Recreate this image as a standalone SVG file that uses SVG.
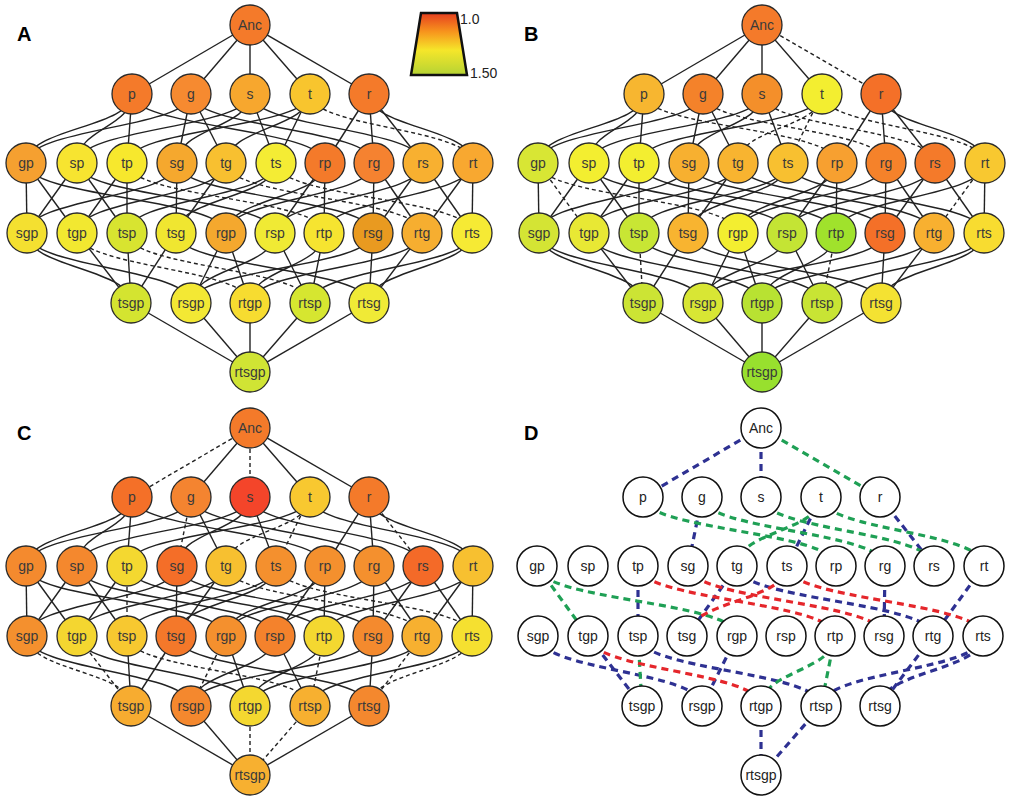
<svg xmlns="http://www.w3.org/2000/svg" xmlns:xlink="http://www.w3.org/1999/xlink" width="1010" height="800" viewBox="0 0 1010 800">
<style>
text{font-family:"Liberation Sans",Arial,sans-serif;font-size:14px;fill:#3a3a3a;text-anchor:middle}
.lbl{font-size:20px;font-weight:bold;fill:#000;text-anchor:start}
.leg{font-size:14px;fill:#222;text-anchor:start}
circle{stroke:#2a2a2a;stroke-width:1.3}
.E{fill:none;stroke:#222;stroke-width:1.4}
.d{stroke-dasharray:4 3}
.Dw circle{fill:#fff;stroke:#111;stroke-width:1.5}
.Dw text{fill:#222}
.DE{fill:none;stroke-width:3.2;stroke-dasharray:7 5}
.b{stroke:#2e3192}.g{stroke:#1fa055}.r{stroke:#e5262b}
</style>
<defs>
<linearGradient id="lg" x1="0" y1="0" x2="0" y2="1">
<stop offset="0" stop-color="#e63e1f"/><stop offset="0.3" stop-color="#f7941d"/><stop offset="0.6" stop-color="#f5e62a"/><stop offset="1" stop-color="#b5d334"/>
</linearGradient>
<path id="Anc-p" d="M250 25L132 94"/>
<path id="Anc-g" d="M250 25L191 94"/>
<path id="Anc-s" d="M250 25L250 94"/>
<path id="Anc-t" d="M250 25L310 94"/>
<path id="Anc-r" d="M250 25L369 94"/>
<path id="p-gp" d="M132 94C132 128 26 128 26 163"/>
<path id="p-sp" d="M132 94C132 128 77 128 77 163"/>
<path id="p-tp" d="M132 94L127 163"/>
<path id="p-rp" d="M132 94C132 128 325 128 325 163"/>
<path id="g-gp" d="M191 94C191 128 26 128 26 163"/>
<path id="g-sg" d="M191 94L177 163"/>
<path id="g-tg" d="M191 94L226 163"/>
<path id="g-rg" d="M191 94C191 128 374 128 374 163"/>
<path id="s-sp" d="M250 94C250 128 77 128 77 163"/>
<path id="s-sg" d="M250 94C250 128 177 128 177 163"/>
<path id="s-ts" d="M250 94L276 163"/>
<path id="s-rs" d="M250 94C250 128 423 128 423 163"/>
<path id="t-tp" d="M310 94C310 128 127 128 127 163"/>
<path id="t-tg" d="M310 94C310 128 226 128 226 163"/>
<path id="t-ts" d="M310 94L276 163"/>
<path id="t-rt" d="M310 94C310 128 473 128 473 163"/>
<path id="r-rp" d="M369 94L325 163"/>
<path id="r-rg" d="M369 94L374 163"/>
<path id="r-rs" d="M369 94L423 163"/>
<path id="r-rt" d="M369 94C369 128 473 128 473 163"/>
<path id="gp-sgp" d="M26 163L27 233"/>
<path id="gp-tgp" d="M26 163L77 233"/>
<path id="gp-rgp" d="M26 163C26 198 226 198 226 233"/>
<path id="sp-sgp" d="M77 163L27 233"/>
<path id="sp-tsp" d="M77 163L127 233"/>
<path id="sp-rsp" d="M77 163C77 198 275 198 275 233"/>
<path id="tp-tgp" d="M127 163L77 233"/>
<path id="tp-tsp" d="M127 163L127 233"/>
<path id="tp-rtp" d="M127 163C127 198 324 198 324 233"/>
<path id="sg-sgp" d="M177 163C177 198 27 198 27 233"/>
<path id="sg-tsg" d="M177 163L176 233"/>
<path id="sg-rsg" d="M177 163C177 198 373 198 373 233"/>
<path id="tg-tgp" d="M226 163C226 198 77 198 77 233"/>
<path id="tg-tsg" d="M226 163L176 233"/>
<path id="tg-rtg" d="M226 163C226 198 422 198 422 233"/>
<path id="ts-tsp" d="M276 163C276 198 127 198 127 233"/>
<path id="ts-tsg" d="M276 163C276 198 176 198 176 233"/>
<path id="ts-rts" d="M276 163C276 198 472 198 472 233"/>
<path id="rp-rgp" d="M325 163C325 198 226 198 226 233"/>
<path id="rp-rsp" d="M325 163L275 233"/>
<path id="rp-rtp" d="M325 163L324 233"/>
<path id="rg-rgp" d="M374 163C374 198 226 198 226 233"/>
<path id="rg-rsg" d="M374 163L373 233"/>
<path id="rg-rtg" d="M374 163L422 233"/>
<path id="rs-rsp" d="M423 163C423 198 275 198 275 233"/>
<path id="rs-rsg" d="M423 163L373 233"/>
<path id="rs-rts" d="M423 163L472 233"/>
<path id="rt-rtp" d="M473 163C473 198 324 198 324 233"/>
<path id="rt-rtg" d="M473 163L422 233"/>
<path id="rt-rts" d="M473 163L472 233"/>
<path id="sgp-tsgp" d="M27 233C27 268 131 268 131 303"/>
<path id="sgp-rsgp" d="M27 233C27 268 191 268 191 303"/>
<path id="tgp-tsgp" d="M77 233L131 303"/>
<path id="tgp-rtgp" d="M77 233C77 268 250 268 250 303"/>
<path id="tsp-tsgp" d="M127 233L131 303"/>
<path id="tsp-rtsp" d="M127 233C127 268 310 268 310 303"/>
<path id="tsg-tsgp" d="M176 233L131 303"/>
<path id="tsg-rtsg" d="M176 233C176 268 369 268 369 303"/>
<path id="rgp-rsgp" d="M226 233L191 303"/>
<path id="rgp-rtgp" d="M226 233L250 303"/>
<path id="rsp-rsgp" d="M275 233C275 268 191 268 191 303"/>
<path id="rsp-rtsp" d="M275 233L310 303"/>
<path id="rtp-rtgp" d="M324 233C324 268 250 268 250 303"/>
<path id="rtp-rtsp" d="M324 233L310 303"/>
<path id="rsg-rsgp" d="M373 233C373 268 191 268 191 303"/>
<path id="rsg-rtsg" d="M373 233L369 303"/>
<path id="rtg-rtgp" d="M422 233C422 268 250 268 250 303"/>
<path id="rtg-rtsg" d="M422 233L369 303"/>
<path id="rts-rtsp" d="M472 233C472 268 310 268 310 303"/>
<path id="rts-rtsg" d="M472 233C472 268 369 268 369 303"/>
<path id="tsgp-rtsgp" d="M131 303L250 372"/>
<path id="rsgp-rtsgp" d="M191 303L250 372"/>
<path id="rtgp-rtsgp" d="M250 303L250 372"/>
<path id="rtsp-rtsgp" d="M310 303L250 372"/>
<path id="rtsg-rtsgp" d="M369 303L250 372"/>
<g id="allsolid">
<use href="#Anc-g"/><use href="#Anc-t"/>
<use href="#p-gp"/><use href="#p-sp"/><use href="#p-tp"/>
<use href="#g-gp"/><use href="#g-tg"/>
<use href="#s-sp"/><use href="#s-sg"/>
<use href="#t-tp"/>
<use href="#r-rp"/><use href="#r-rg"/>
<use href="#gp-sgp"/>
<use href="#sp-sgp"/><use href="#sp-tsp"/><use href="#sp-rsp"/>
<use href="#tp-tgp"/>
<use href="#sg-sgp"/><use href="#sg-tsg"/><use href="#sg-rsg"/>
<use href="#tg-tgp"/><use href="#tg-tsg"/>
<use href="#ts-tsp"/><use href="#ts-tsg"/>
<use href="#rp-rgp"/><use href="#rp-rsp"/><use href="#rp-rtp"/>
<use href="#rg-rgp"/><use href="#rg-rsg"/><use href="#rg-rtg"/>
<use href="#rs-rsp"/><use href="#rs-rsg"/><use href="#rs-rts"/>
<use href="#rt-rtp"/><use href="#rt-rts"/>
<use href="#tsg-tsgp"/><use href="#tsg-rtsg"/>
<use href="#rgp-rtgp"/>
<use href="#rsp-rsgp"/><use href="#rsp-rtsp"/>
<use href="#rtp-rtgp"/>
<use href="#rsg-rsgp"/><use href="#rsg-rtsg"/>
<use href="#rtg-rtgp"/>
<use href="#rts-rtsp"/>
<use href="#tsgp-rtsgp"/><use href="#rsgp-rtsgp"/><use href="#rtsg-rtsgp"/>
</g>
</defs>

<g id="connectors">
<g id="edgesA" class="E">
<use href="#allsolid"/>
<use href="#Anc-p"/><use href="#Anc-s"/><use href="#Anc-r"/><use href="#p-rp"/><use href="#g-sg"/><use href="#g-rg"/><use href="#s-ts"/><use href="#s-rs"/><use href="#t-tg"/><use href="#t-ts"/><use href="#r-rs"/><use href="#r-rt"/><use href="#gp-tgp"/><use href="#gp-rgp"/><use href="#tp-tsp"/><use href="#rt-rtg"/><use href="#sgp-tsgp"/><use href="#sgp-rsgp"/><use href="#tgp-tsgp"/><use href="#tsp-tsgp"/><use href="#rgp-rsgp"/><use href="#rtp-rtsp"/><use href="#rtg-rtsg"/><use href="#rts-rtsg"/><use href="#rtgp-rtsgp"/><use href="#rtsp-rtsgp"/>
<g class="d"><use href="#t-rt"/><use href="#tp-rtp"/><use href="#tg-rtg"/><use href="#ts-rts"/><use href="#tgp-rtgp"/><use href="#tsp-rtsp"/></g>
</g>
<g id="edgesB" class="E" transform="translate(512,0)">
<use href="#allsolid"/>
<use href="#Anc-p"/><use href="#Anc-s"/><use href="#g-sg"/><use href="#s-ts"/><use href="#r-rs"/><use href="#r-rt"/><use href="#p-rp" class="d"/><use href="#tp-tsp"/><use href="#tp-rtp"/><use href="#tg-rtg"/><use href="#ts-rts"/><use href="#sgp-tsgp"/><use href="#sgp-rsgp"/><use href="#tgp-tsgp"/><use href="#tgp-rtgp"/><use href="#tsp-rtsp"/><use href="#rgp-rsgp"/><use href="#rtg-rtsg"/><use href="#rts-rtsg"/><use href="#rtgp-rtsgp"/><use href="#rtsp-rtsgp"/>
<g class="d"><use href="#Anc-r"/><use href="#g-rg"/><use href="#s-rs"/><use href="#t-rt"/><use href="#t-tg"/><use href="#t-ts"/><use href="#gp-tgp"/><use href="#gp-rgp"/><use href="#rt-rtg"/><use href="#tsp-tsgp"/><use href="#rtp-rtsp"/></g>
</g>
<g id="edgesC" class="E" transform="translate(0,403)">
<use href="#allsolid"/>
<use href="#Anc-r"/><use href="#p-rp"/><use href="#g-rg"/><use href="#s-ts"/><use href="#s-rs"/><use href="#t-rt"/><use href="#r-rt"/><use href="#gp-tgp"/><use href="#gp-rgp"/><use href="#tp-rtp"/><use href="#rt-rtg"/><use href="#sgp-rsgp"/><use href="#tgp-rtgp"/><use href="#tsp-tsgp"/>
<g class="d"><use href="#Anc-p"/><use href="#Anc-s"/><use href="#g-sg"/><use href="#t-tg"/><use href="#t-ts"/><use href="#r-rs"/><use href="#tp-tsp"/><use href="#ts-rts"/><use href="#tg-rtg"/><use href="#sgp-tsgp"/><use href="#tgp-tsgp"/><use href="#tsp-rtsp"/><use href="#rgp-rsgp"/><use href="#rtp-rtsp"/><use href="#rtg-rtsg"/><use href="#rts-rtsg"/><use href="#rtgp-rtsgp"/><use href="#rtsp-rtsgp"/></g>
</g>
<g id="edgesD" class="DE" transform="translate(511,403)">
<g class="b"><use href="#Anc-p"/><use href="#Anc-s"/><use href="#g-sg"/><use href="#t-ts"/><use href="#r-rs"/><use href="#tp-tsp"/><use href="#tg-tsg"/><use href="#tg-rtg"/><use href="#rg-rsg"/><use href="#rt-rtg"/><use href="#sgp-rsgp"/><use href="#tgp-tsgp"/><use href="#tsp-rtsp"/><use href="#rgp-rsgp"/><use href="#rtg-rtsg"/><use href="#rts-rtsp"/><use href="#rts-rtsg"/><use href="#rtgp-rtsgp"/><use href="#rtsp-rtsgp"/></g>
<g class="g"><use href="#Anc-r"/><use href="#p-rp"/><use href="#g-rg"/><use href="#s-rs"/><use href="#t-tg"/><use href="#t-rt"/><use href="#gp-tgp"/><use href="#gp-rgp"/><use href="#tsp-tsgp"/><use href="#rtp-rtgp"/><use href="#rtp-rtsp"/></g>
<g class="r"><use href="#tp-rtp"/><use href="#sg-rsg"/><use href="#ts-tsg"/><use href="#ts-rts"/><use href="#tgp-rtgp"/></g>
</g>
</g>

<text class="lbl" x="17" y="41">A</text>
<text class="lbl" x="524" y="41">B</text>
<text class="lbl" x="17" y="440">C</text>
<text class="lbl" x="524" y="440">D</text>

<g id="legend">
<polygon points="421,13 457,13 467,75 411,75" fill="url(#lg)" stroke="#111" stroke-width="2.5"/>
<text class="leg" x="460" y="24">1.0</text>
<text class="leg" x="470" y="78">1.50</text>
</g>

<g id="nodesA">
<g id="A-Anc"><circle cx="250" cy="25" r="20" fill="#f47a2a"/><text x="250" y="30">Anc</text></g>
<g id="A-p"><circle cx="132" cy="94" r="20" fill="#f47a2a"/><text x="132" y="99">p</text></g>
<g id="A-g"><circle cx="191" cy="94" r="20" fill="#f68a30"/><text x="191" y="99">g</text></g>
<g id="A-s"><circle cx="250" cy="94" r="20" fill="#f7a72e"/><text x="250" y="99">s</text></g>
<g id="A-t"><circle cx="310" cy="94" r="20" fill="#f8c52e"/><text x="310" y="99">t</text></g>
<g id="A-r"><circle cx="369" cy="94" r="20" fill="#f47a2a"/><text x="369" y="99">r</text></g>
<g id="A-gp"><circle cx="26" cy="163" r="20" fill="#f5a030"/><text x="26" y="168">gp</text></g>
<g id="A-sp"><circle cx="77" cy="163" r="20" fill="#f7e430"/><text x="77" y="168">sp</text></g>
<g id="A-tp"><circle cx="127" cy="163" r="20" fill="#f7e82d"/><text x="127" y="168">tp</text></g>
<g id="A-sg"><circle cx="177" cy="163" r="20" fill="#f5a82e"/><text x="177" y="168">sg</text></g>
<g id="A-tg"><circle cx="226" cy="163" r="20" fill="#f8c030"/><text x="226" y="168">tg</text></g>
<g id="A-ts"><circle cx="276" cy="163" r="20" fill="#f4ec34"/><text x="276" y="168">ts</text></g>
<g id="A-rp"><circle cx="325" cy="163" r="20" fill="#f47a2a"/><text x="325" y="168">rp</text></g>
<g id="A-rg"><circle cx="374" cy="163" r="20" fill="#f58230"/><text x="374" y="168">rg</text></g>
<g id="A-rs"><circle cx="423" cy="163" r="20" fill="#f8b030"/><text x="423" y="168">rs</text></g>
<g id="A-rt"><circle cx="473" cy="163" r="20" fill="#f8a830"/><text x="473" y="168">rt</text></g>
<g id="A-sgp"><circle cx="27" cy="233" r="20" fill="#f4e030"/><text x="27" y="238">sgp</text></g>
<g id="A-tgp"><circle cx="77" cy="233" r="20" fill="#f2e830"/><text x="77" y="238">tgp</text></g>
<g id="A-tsp"><circle cx="127" cy="233" r="20" fill="#d8e430"/><text x="127" y="238">tsp</text></g>
<g id="A-tsg"><circle cx="176" cy="233" r="20" fill="#f0e630"/><text x="176" y="238">tsg</text></g>
<g id="A-rgp"><circle cx="226" cy="233" r="20" fill="#f4a82e"/><text x="226" y="238">rgp</text></g>
<g id="A-rsp"><circle cx="275" cy="233" r="20" fill="#f0ea34"/><text x="275" y="238">rsp</text></g>
<g id="A-rtp"><circle cx="324" cy="233" r="20" fill="#f6e430"/><text x="324" y="238">rtp</text></g>
<g id="A-rsg"><circle cx="373" cy="233" r="20" fill="#e99a20"/><text x="373" y="238">rsg</text></g>
<g id="A-rtg"><circle cx="422" cy="233" r="20" fill="#f6ae30"/><text x="422" y="238">rtg</text></g>
<g id="A-rts"><circle cx="472" cy="233" r="20" fill="#f6ea34"/><text x="472" y="238">rts</text></g>
<g id="A-tsgp"><circle cx="131" cy="303" r="20" fill="#d4e430"/><text x="131" y="308">tsgp</text></g>
<g id="A-rsgp"><circle cx="191" cy="303" r="20" fill="#f3e834"/><text x="191" y="308">rsgp</text></g>
<g id="A-rtgp"><circle cx="250" cy="303" r="20" fill="#f7dc30"/><text x="250" y="308">rtgp</text></g>
<g id="A-rtsp"><circle cx="310" cy="303" r="20" fill="#d6e630"/><text x="310" y="308">rtsp</text></g>
<g id="A-rtsg"><circle cx="369" cy="303" r="20" fill="#f0ea36"/><text x="369" y="308">rtsg</text></g>
<g id="A-rtsgp"><circle cx="250" cy="372" r="20" fill="#d0e434"/><text x="250" y="377">rtsgp</text></g>
</g>

<g id="nodesB" transform="translate(512,0)">
<g id="B-Anc"><circle cx="250" cy="25" r="20" fill="#f47a2a"/><text x="250" y="30">Anc</text></g>
<g id="B-p"><circle cx="132" cy="94" r="20" fill="#f7b630"/><text x="132" y="99">p</text></g>
<g id="B-g"><circle cx="191" cy="94" r="20" fill="#f4822a"/><text x="191" y="99">g</text></g>
<g id="B-s"><circle cx="250" cy="94" r="20" fill="#f48f2a"/><text x="250" y="99">s</text></g>
<g id="B-t"><circle cx="310" cy="94" r="20" fill="#f3ee30"/><text x="310" y="99">t</text></g>
<g id="B-r"><circle cx="369" cy="94" r="20" fill="#f47028"/><text x="369" y="99">r</text></g>
<g id="B-gp"><circle cx="26" cy="163" r="20" fill="#d8e634"/><text x="26" y="168">gp</text></g>
<g id="B-sp"><circle cx="77" cy="163" r="20" fill="#f3ee30"/><text x="77" y="168">sp</text></g>
<g id="B-tp"><circle cx="127" cy="163" r="20" fill="#f3ee30"/><text x="127" y="168">tp</text></g>
<g id="B-sg"><circle cx="177" cy="163" r="20" fill="#f7b030"/><text x="177" y="168">sg</text></g>
<g id="B-tg"><circle cx="226" cy="163" r="20" fill="#f8b430"/><text x="226" y="168">tg</text></g>
<g id="B-ts"><circle cx="276" cy="163" r="20" fill="#f8c030"/><text x="276" y="168">ts</text></g>
<g id="B-rp"><circle cx="325" cy="163" r="20" fill="#f7a030"/><text x="325" y="168">rp</text></g>
<g id="B-rg"><circle cx="374" cy="163" r="20" fill="#f5822a"/><text x="374" y="168">rg</text></g>
<g id="B-rs"><circle cx="423" cy="163" r="20" fill="#f47a2a"/><text x="423" y="168">rs</text></g>
<g id="B-rt"><circle cx="473" cy="163" r="20" fill="#f8c830"/><text x="473" y="168">rt</text></g>
<g id="B-sgp"><circle cx="27" cy="233" r="20" fill="#d4e434"/><text x="27" y="238">sgp</text></g>
<g id="B-tgp"><circle cx="77" cy="233" r="20" fill="#e8e834"/><text x="77" y="238">tgp</text></g>
<g id="B-tsp"><circle cx="127" cy="233" r="20" fill="#c8e634"/><text x="127" y="238">tsp</text></g>
<g id="B-tsg"><circle cx="176" cy="233" r="20" fill="#f8b430"/><text x="176" y="238">tsg</text></g>
<g id="B-rgp"><circle cx="226" cy="233" r="20" fill="#f3ee30"/><text x="226" y="238">rgp</text></g>
<g id="B-rsp"><circle cx="275" cy="233" r="20" fill="#c4e434"/><text x="275" y="238">rsp</text></g>
<g id="B-rtp"><circle cx="324" cy="233" r="20" fill="#a0e22c"/><text x="324" y="238">rtp</text></g>
<g id="B-rsg"><circle cx="373" cy="233" r="20" fill="#f47028"/><text x="373" y="238">rsg</text></g>
<g id="B-rtg"><circle cx="422" cy="233" r="20" fill="#f8b030"/><text x="422" y="238">rtg</text></g>
<g id="B-rts"><circle cx="472" cy="233" r="20" fill="#f8dc30"/><text x="472" y="238">rts</text></g>
<g id="B-tsgp"><circle cx="131" cy="303" r="20" fill="#cce434"/><text x="131" y="308">tsgp</text></g>
<g id="B-rsgp"><circle cx="191" cy="303" r="20" fill="#d8e634"/><text x="191" y="308">rsgp</text></g>
<g id="B-rtgp"><circle cx="250" cy="303" r="20" fill="#b8e232"/><text x="250" y="308">rtgp</text></g>
<g id="B-rtsp"><circle cx="310" cy="303" r="20" fill="#c8e434"/><text x="310" y="308">rtsp</text></g>
<g id="B-rtsg"><circle cx="369" cy="303" r="20" fill="#f4e232"/><text x="369" y="308">rtsg</text></g>
<g id="B-rtsgp"><circle cx="250" cy="372" r="20" fill="#98e02e"/><text x="250" y="377">rtsgp</text></g>
</g>

<g id="nodesC" transform="translate(0,403)">
<g id="C-Anc"><circle cx="250" cy="25" r="20" fill="#f47a2a"/><text x="250" y="30">Anc</text></g>
<g id="C-p"><circle cx="132" cy="94" r="20" fill="#f47028"/><text x="132" y="99">p</text></g>
<g id="C-g"><circle cx="191" cy="94" r="20" fill="#f48430"/><text x="191" y="99">g</text></g>
<g id="C-s"><circle cx="250" cy="94" r="20" fill="#f4452a"/><text x="250" y="99">s</text></g>
<g id="C-t"><circle cx="310" cy="94" r="20" fill="#f8c830"/><text x="310" y="99">t</text></g>
<g id="C-r"><circle cx="369" cy="94" r="20" fill="#f47a2a"/><text x="369" y="99">r</text></g>
<g id="C-gp"><circle cx="26" cy="163" r="20" fill="#f48a2e"/><text x="26" y="168">gp</text></g>
<g id="C-sp"><circle cx="77" cy="163" r="20" fill="#f4882e"/><text x="77" y="168">sp</text></g>
<g id="C-tp"><circle cx="127" cy="163" r="20" fill="#f4d830"/><text x="127" y="168">tp</text></g>
<g id="C-sg"><circle cx="177" cy="163" r="20" fill="#f46e28"/><text x="177" y="168">sg</text></g>
<g id="C-tg"><circle cx="226" cy="163" r="20" fill="#f7c030"/><text x="226" y="168">tg</text></g>
<g id="C-ts"><circle cx="276" cy="163" r="20" fill="#f4902e"/><text x="276" y="168">ts</text></g>
<g id="C-rp"><circle cx="325" cy="163" r="20" fill="#f4902e"/><text x="325" y="168">rp</text></g>
<g id="C-rg"><circle cx="374" cy="163" r="20" fill="#f4902e"/><text x="374" y="168">rg</text></g>
<g id="C-rs"><circle cx="423" cy="163" r="20" fill="#f46a28"/><text x="423" y="168">rs</text></g>
<g id="C-rt"><circle cx="473" cy="163" r="20" fill="#f7c030"/><text x="473" y="168">rt</text></g>
<g id="C-sgp"><circle cx="27" cy="233" r="20" fill="#f4902e"/><text x="27" y="238">sgp</text></g>
<g id="C-tgp"><circle cx="77" cy="233" r="20" fill="#f4d630"/><text x="77" y="238">tgp</text></g>
<g id="C-tsp"><circle cx="127" cy="233" r="20" fill="#f7c830"/><text x="127" y="238">tsp</text></g>
<g id="C-tsg"><circle cx="176" cy="233" r="20" fill="#f4782a"/><text x="176" y="238">tsg</text></g>
<g id="C-rgp"><circle cx="226" cy="233" r="20" fill="#f4902e"/><text x="226" y="238">rgp</text></g>
<g id="C-rsp"><circle cx="275" cy="233" r="20" fill="#f4822c"/><text x="275" y="238">rsp</text></g>
<g id="C-rtp"><circle cx="324" cy="233" r="20" fill="#f4d830"/><text x="324" y="238">rtp</text></g>
<g id="C-rsg"><circle cx="373" cy="233" r="20" fill="#f48a2e"/><text x="373" y="238">rsg</text></g>
<g id="C-rtg"><circle cx="422" cy="233" r="20" fill="#f7b030"/><text x="422" y="238">rtg</text></g>
<g id="C-rts"><circle cx="472" cy="233" r="20" fill="#f5e030"/><text x="472" y="238">rts</text></g>
<g id="C-tsgp"><circle cx="131" cy="303" r="20" fill="#f7ac30"/><text x="131" y="308">tsgp</text></g>
<g id="C-rsgp"><circle cx="191" cy="303" r="20" fill="#f4882e"/><text x="191" y="308">rsgp</text></g>
<g id="C-rtgp"><circle cx="250" cy="303" r="20" fill="#f4d830"/><text x="250" y="308">rtgp</text></g>
<g id="C-rtsp"><circle cx="310" cy="303" r="20" fill="#f7b030"/><text x="310" y="308">rtsp</text></g>
<g id="C-rtsg"><circle cx="369" cy="303" r="20" fill="#f4882e"/><text x="369" y="308">rtsg</text></g>
<g id="C-rtsgp"><circle cx="250" cy="372" r="20" fill="#f7b030"/><text x="250" y="377">rtsgp</text></g>
</g>

<g id="nodesD" class="Dw" transform="translate(511,403)">
<g id="D-Anc"><circle cx="250" cy="25" r="20"/><text x="250" y="30">Anc</text></g>
<g id="D-p"><circle cx="132" cy="94" r="20"/><text x="132" y="99">p</text></g>
<g id="D-g"><circle cx="191" cy="94" r="20"/><text x="191" y="99">g</text></g>
<g id="D-s"><circle cx="250" cy="94" r="20"/><text x="250" y="99">s</text></g>
<g id="D-t"><circle cx="310" cy="94" r="20"/><text x="310" y="99">t</text></g>
<g id="D-r"><circle cx="369" cy="94" r="20"/><text x="369" y="99">r</text></g>
<g id="D-gp"><circle cx="26" cy="163" r="20"/><text x="26" y="168">gp</text></g>
<g id="D-sp"><circle cx="77" cy="163" r="20"/><text x="77" y="168">sp</text></g>
<g id="D-tp"><circle cx="127" cy="163" r="20"/><text x="127" y="168">tp</text></g>
<g id="D-sg"><circle cx="177" cy="163" r="20"/><text x="177" y="168">sg</text></g>
<g id="D-tg"><circle cx="226" cy="163" r="20"/><text x="226" y="168">tg</text></g>
<g id="D-ts"><circle cx="276" cy="163" r="20"/><text x="276" y="168">ts</text></g>
<g id="D-rp"><circle cx="325" cy="163" r="20"/><text x="325" y="168">rp</text></g>
<g id="D-rg"><circle cx="374" cy="163" r="20"/><text x="374" y="168">rg</text></g>
<g id="D-rs"><circle cx="423" cy="163" r="20"/><text x="423" y="168">rs</text></g>
<g id="D-rt"><circle cx="473" cy="163" r="20"/><text x="473" y="168">rt</text></g>
<g id="D-sgp"><circle cx="27" cy="233" r="20"/><text x="27" y="238">sgp</text></g>
<g id="D-tgp"><circle cx="77" cy="233" r="20"/><text x="77" y="238">tgp</text></g>
<g id="D-tsp"><circle cx="127" cy="233" r="20"/><text x="127" y="238">tsp</text></g>
<g id="D-tsg"><circle cx="176" cy="233" r="20"/><text x="176" y="238">tsg</text></g>
<g id="D-rgp"><circle cx="226" cy="233" r="20"/><text x="226" y="238">rgp</text></g>
<g id="D-rsp"><circle cx="275" cy="233" r="20"/><text x="275" y="238">rsp</text></g>
<g id="D-rtp"><circle cx="324" cy="233" r="20"/><text x="324" y="238">rtp</text></g>
<g id="D-rsg"><circle cx="373" cy="233" r="20"/><text x="373" y="238">rsg</text></g>
<g id="D-rtg"><circle cx="422" cy="233" r="20"/><text x="422" y="238">rtg</text></g>
<g id="D-rts"><circle cx="472" cy="233" r="20"/><text x="472" y="238">rts</text></g>
<g id="D-tsgp"><circle cx="131" cy="303" r="20"/><text x="131" y="308">tsgp</text></g>
<g id="D-rsgp"><circle cx="191" cy="303" r="20"/><text x="191" y="308">rsgp</text></g>
<g id="D-rtgp"><circle cx="250" cy="303" r="20"/><text x="250" y="308">rtgp</text></g>
<g id="D-rtsp"><circle cx="310" cy="303" r="20"/><text x="310" y="308">rtsp</text></g>
<g id="D-rtsg"><circle cx="369" cy="303" r="20"/><text x="369" y="308">rtsg</text></g>
<g id="D-rtsgp"><circle cx="250" cy="372" r="20"/><text x="250" y="377">rtsgp</text></g>
</g>
</svg>
